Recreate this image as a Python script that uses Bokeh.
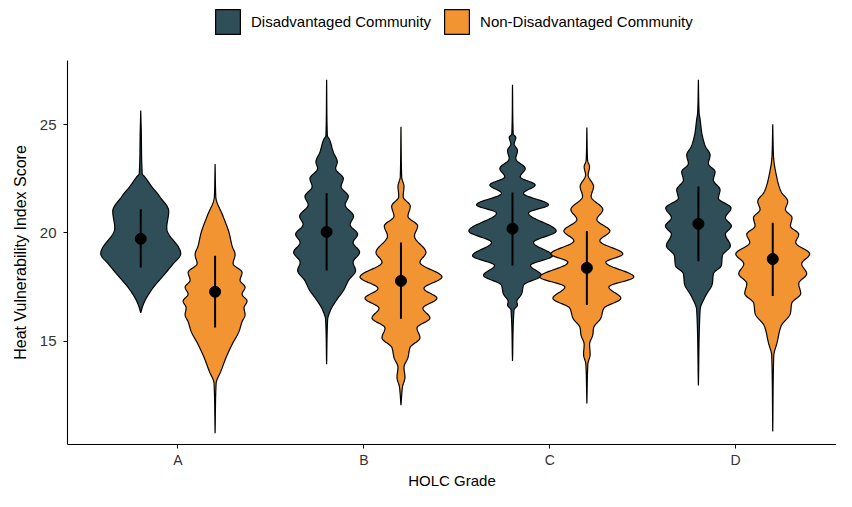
import numpy as np
from bokeh.plotting import figure
from bokeh.layouts import column
from bokeh.models import Range1d, FixedTicker, Legend, LegendItem
from bokeh.embed import file_html
from bokeh.resources import INLINE

# ---------------- data ----------------
GRADES = ["A", "B", "C", "D"]
GROUPS = ["Disadvantaged Community", "Non-Disadvantaged Community"]
COLORS = ["#2F4E57", "#F19431"]

# violin outlines: score (top -> bottom) and relative density half-width
A_DIS_Y = [25.64, 24.73, 22.73, 22.59, 22.14, 21.68, 21.0, 20.23, 19.05, 18.55, 18.0, 17.45, 16.95, 16.64, 16.32]
A_DIS_W = [0, 0.5, 1.5, 4, 11, 19, 28, 26, 40, 32, 22, 12, 5, 2, 0]

A_NON_Y = [23.18, 21.68, 20.77, 20.01, 19.41, 19.0, 18.59, 18.18, 17.82, 17.5, 17.18, 16.86, 16.55, 16.23, 15.91,
           15.47, 14.86, 14.26, 13.65, 13.05, 10.77]
A_NON_W = [0, 0.7, 8, 14, 17, 20, 18, 27, 25, 30, 27, 32, 29, 30, 27, 24, 17, 11, 6, 1.0, 0]

B_DIS_Y = [27.06, 24.49, 24.33, 23.73, 23.27, 22.97, 22.51, 22.14, 21.68, 21.30, 20.77, 20.39, 19.94, 19.56,
           19.11, 18.65, 18.27, 17.82, 17.36, 16.91, 16.45, 16.0, 13.95]
B_DIS_W = [0, 0.7, 2.7, 6.7, 10.7, 9.0, 16.7, 14.5, 21.7, 18.5, 27, 23.5, 31, 26.5, 33, 26.5, 29, 22, 17, 10, 4, 1.0, 0]

B_NON_Y = [24.90, 22.59, 22.14, 21.68, 21.23, 20.77, 20.32, 19.86, 19.10, 18.65, 17.97, 17.44, 16.99, 16.53,
           16.08, 15.62, 15.17, 14.71, 14.26, 13.80, 13.35, 12.90, 12.06]
B_NON_W = [0, 0.7, 3, 2.2, 9.3, 7.0, 16.7, 13.5, 25, 19, 41, 23, 36, 22, 29, 16, 19, 9, 7, 3, 4, 1.5, 0]

C_DIS_Y = [26.83, 24.56, 24.41, 24.10, 23.80, 23.42, 22.97, 22.59, 22.21, 21.83, 21.30, 20.92, 20.09, 19.56,
           18.95, 18.50, 18.05, 17.59, 17.21, 16.83, 16.68, 16.45, 14.10]
C_DIS_W = [0, 0.7, 3.3, 1.7, 5, 3.3, 12.7, 7.7, 22.7, 11, 36, 16, 43.7, 21, 40, 18, 29, 11, 9.3, 4.3, 5, 1.5, 0]

C_NON_Y = [24.86, 23.35, 23.05, 22.67, 22.14, 21.68, 21.08, 20.62, 20.09, 19.64, 19.03, 18.65, 17.97, 17.51,
           16.99, 16.53, 16.08, 15.62, 15.32, 14.86, 14.41, 13.95, 12.14]
C_NON_W = [0, 0.7, 2.7, 1.3, 6.7, 4.3, 16, 10, 23, 13, 36, 19, 47, 22, 34, 17, 14, 6.7, 6, 2.7, 3.3, 1.0, 0]

D_DIS_Y = [27.06, 25.55, 25.24, 24.64, 24.03, 23.58, 23.20, 22.82, 22.44, 21.99, 21.60, 21.15, 20.70, 20.32,
           19.94, 19.41, 18.95, 18.50, 18.12, 17.67, 17.06, 16.45, 12.97]
D_DIS_W = [0, 0.7, 1.7, 3.3, 6.7, 11.7, 10, 16.7, 15, 21.7, 20, 32.7, 27, 33, 27, 32, 24, 23, 15, 14, 6.7, 1.7, 0]

D_NON_Y = [25.01, 23.58, 22.51, 21.91, 21.45, 21.08, 20.70, 20.32, 19.94, 19.56, 19.03, 18.58, 18.12, 17.67,
           17.21, 16.76, 16.30, 15.70, 14.94, 14.33, 10.85]
D_NON_W = [0, 0.7, 4.3, 8.3, 15, 12.7, 19.3, 17.7, 26, 23, 37, 29, 34, 26, 28, 19, 17.7, 8.3, 4.3, 1.0, 0]

# summary: mean and mean +/- sd
DIS_MEAN = [19.73, 20.05, 20.20, 20.42]
DIS_LOW = [18.41, 18.27, 18.50, 18.70]
DIS_HIGH = [21.09, 21.83, 21.86, 22.14]
NON_MEAN = [17.29, 17.79, 18.39, 18.80]
NON_LOW = [15.64, 16.05, 16.68, 17.09]
NON_HIGH = [18.95, 19.56, 20.09, 20.47]

Y_TICKS = [15, 20, 25]

VIOLINS = {
    ("A", 0): (A_DIS_Y, A_DIS_W), ("A", 1): (A_NON_Y, A_NON_W),
    ("B", 0): (B_DIS_Y, B_DIS_W), ("B", 1): (B_NON_Y, B_NON_W),
    ("C", 0): (C_DIS_Y, C_DIS_W), ("C", 1): (C_NON_Y, C_NON_W),
    ("D", 0): (D_DIS_Y, D_DIS_W), ("D", 1): (D_NON_Y, D_NON_W),
}

DODGE = 0.2
DENS_SCALE = 1.0 / 186.0
FONT = "Liberation Sans"


def pchip(x, y, xn):
    x = np.asarray(x, float)
    y = np.asarray(y, float)
    n = len(x)
    h = np.diff(x)
    d = np.diff(y) / h
    m = np.zeros(n)
    for k in range(1, n - 1):
        if d[k - 1] * d[k] <= 0:
            m[k] = 0.0
        else:
            w1 = 2 * h[k] + h[k - 1]
            w2 = h[k] + 2 * h[k - 1]
            m[k] = (w1 + w2) / (w1 / d[k - 1] + w2 / d[k])
    m[0] = d[0]
    m[-1] = d[-1]
    idx = np.clip(np.searchsorted(x, xn) - 1, 0, n - 2)
    t = (xn - x[idx]) / h[idx]
    h00 = 2 * t ** 3 - 3 * t ** 2 + 1
    h10 = t ** 3 - 2 * t ** 2 + t
    h01 = -2 * t ** 3 + 3 * t ** 2
    h11 = t ** 3 - t ** 2
    return h00 * y[idx] + h10 * h[idx] * m[idx] + h01 * y[idx + 1] + h11 * h[idx] * m[idx + 1]


# ---------------- legend strip ----------------
leg = figure(width=836, height=57, output_backend="svg", toolbar_location=None,
             x_range=Range1d(0, 1), y_range=Range1d(0, 1),
             x_axis_location=None, y_axis_location=None,
             min_border_left=0, min_border_right=0, min_border_top=0, min_border_bottom=0)
leg.grid.visible = False
leg.outline_line_color = None
# keys drawn outside the visible range: only their legend swatches show
leg_r = [leg.patch([5, 6, 6], [5, 5, 6], fill_color=COLORS[k], line_color="black", line_width=1.2)
         for k in (0, 1)]
legend = Legend(items=[LegendItem(label=GROUPS[k], renderers=[leg_r[k]]) for k in (0, 1)],
                orientation="horizontal", location=(145, 20),
                glyph_width=31, glyph_height=31, label_standoff=8, spacing=10,
                padding=0, margin=0, border_line_color=None, background_fill_alpha=0,
                label_text_font=FONT, label_text_font_size="15px", label_text_color="black")
leg.add_layout(legend, "center")

# ---------------- main plot ----------------
p = figure(width=836, height=434, output_backend="svg", toolbar_location=None,
           x_range=Range1d(0.406, 4.543), y_range=Range1d(10.25, 27.95),
           min_border_left=67, min_border_right=0, min_border_top=3, min_border_bottom=45)
p.background_fill_color = "white"
p.border_fill_color = "white"
p.outline_line_color = None
p.xgrid.visible = False
p.ygrid.visible = False

for gi, g in enumerate(GRADES):
    for k in (0, 1):
        ys, ws = VIOLINS[(g, k)]
        ys = np.asarray(ys[::-1], float)
        ws = np.asarray(ws[::-1], float)
        yy = np.linspace(ys[0], ys[-1], 400)
        ww = np.clip(pchip(ys, ws, yy), 0, None) * DENS_SCALE
        cx = gi + 1 + (-DODGE if k == 0 else DODGE)
        xs = np.concatenate([cx + ww, (cx - ww)[::-1]])
        yv = np.concatenate([yy, yy[::-1]])
        p.patch(xs, yv, fill_color=COLORS[k], line_color="black", line_width=1.2)

xd = [i + 1 - DODGE for i in range(len(GRADES))]
xn = [i + 1 + DODGE for i in range(len(GRADES))]
p.segment(x0=xd, y0=DIS_LOW, x1=xd, y1=DIS_HIGH, line_color="black", line_width=2)
p.segment(x0=xn, y0=NON_LOW, x1=xn, y1=NON_HIGH, line_color="black", line_width=2)
p.scatter(xd, DIS_MEAN, size=11, color="black")
p.scatter(xn, NON_MEAN, size=11, color="black")

for ax in (p.xaxis[0], p.yaxis[0]):
    ax.axis_line_color = "black"
    ax.axis_line_width = 1.1
    ax.major_tick_line_color = "black"
    ax.major_tick_in = 0
    ax.major_tick_out = 4
    ax.minor_tick_line_color = None
    ax.major_label_text_font = FONT
    ax.major_label_text_font_size = "15px"
    ax.major_label_text_color = "#333333"
    ax.axis_label_text_font = FONT
    ax.axis_label_text_font_size = "16px"
    ax.axis_label_text_font_style = "normal"
    ax.axis_label_text_color = "black"

p.xaxis.ticker = FixedTicker(ticks=[i + 1 for i in range(len(GRADES))])
p.xaxis.major_label_overrides = {i + 1: g for i, g in enumerate(GRADES)}
p.xaxis.axis_label = "HOLC Grade"
p.xaxis.major_label_standoff = 3
p.xaxis.axis_label_standoff = 1
p.xaxis.major_label_text_font_size = "14px"
p.xaxis.axis_label_text_font_size = "15px"
p.yaxis.ticker = FixedTicker(ticks=Y_TICKS)
p.yaxis.axis_label = "Heat Vulnerability Index Score"
p.yaxis.major_label_standoff = 7
p.yaxis.axis_label_standoff = 8

layout = column(leg, p, spacing=0)
open("out.html", "w").write(file_html(layout, INLINE))
